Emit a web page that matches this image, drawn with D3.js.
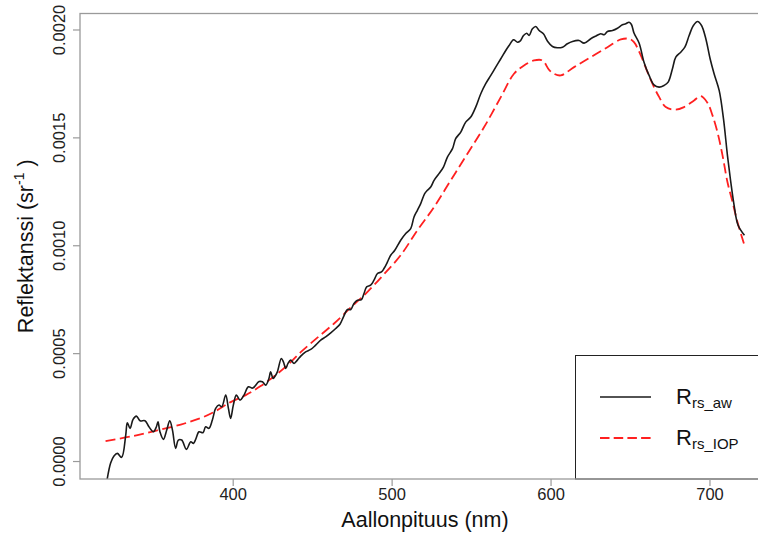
<!DOCTYPE html>
<html><head><meta charset="utf-8">
<script src="https://cdn.jsdelivr.net/npm/d3@7"></script>
<style>
body{margin:0;background:#fff}
svg{display:block}
text{font-family:"Liberation Sans",Arial,Helvetica,sans-serif}
</style>
</head><body>
<svg id="c" width="758" height="538"></svg>
<script>
// ---- data ----
const wavelengthAw = [320,323.2,325.3,327.4,330.1,332.7,333.7,335.4,337.3,339.4,341.7,344.8,347.3,350.1,352.0,353.0,354.2,356.4,358.5,360.4,362.1,364.1,365.8,367.9,370.9,373.6,375.3,376.7,378.8,381.3,383.0,385.1,387.2,389.3,391.4,393.1,395.6,397.3,398.7,400.4,402.3,404.6,407.1,409.9,412.6,416.6,418.7,420.8,422.8,423.9,425.4,426.4,428.1,430.6,431.9,433.4,434.8,436.5,438.6,440.7,442.8,445.9,449.1,452.2,455.4,458.5,461.7,464.8,467.5,469.7,472.2,474.3,476.3,478.5,481.0,482.6,484.3,486.8,488.9,491.1,493.6,495.2,497.4,499.4,502.0,505.7,508.9,512.0,514.1,516.2,518.3,520.8,522.5,524.6,526.7,529.8,532.6,535.1,538.3,540.3,543.5,546.6,549.8,552.9,556.1,559.2,562.4,565.5,568.7,571.8,573.9,576.7,579.2,580.8,583.0,585.0,586.5,588.6,590.7,592.8,595.5,598.1,601.2,604.3,607.5,610.6,613.8,617.9,621.1,625.3,628.4,631.6,633.7,635.8,639.0,642.1,645.2,647.3,649.4,650.9,652.5,655.7,658.8,662.0,665.1,668.3,671.4,674.0,676.7,678.8,681.9,684.5,687.2,689.9,692.5,695.0,697.7,700.4,702.9,706.1,708.8,711.3,713.4,715.5,718.0,722];
const rrsAw = [-13.0e-5,-0.93e-5,2.31e-5,3.56e-5,1.71e-5,12.04e-5,17.73e-5,15.14e-5,19.31e-5,20.83e-5,18.66e-5,18.66e-5,15.88e-5,13.56e-5,15.88e-5,18.19e-5,13.56e-5,10.05e-5,14.35e-5,18.66e-5,14.35e-5,5.88e-5,9.72e-5,9.72e-5,5.42e-5,8.94e-5,8.19e-5,10.05e-5,13.56e-5,13.10e-5,15.88e-5,15.14e-5,18.98e-5,24.40e-5,25.93e-5,25.14e-5,30.56e-5,24.40e-5,19.77e-5,25.93e-5,30.56e-5,28.24e-5,30.56e-5,34.40e-5,33.80e-5,36.81e-5,36.71e-5,35.19e-5,38.29e-5,41.34e-5,38.29e-5,39.03e-5,41.34e-5,47.55e-5,45.97e-5,42.92e-5,45.23e-5,46.76e-5,45.23e-5,46.76e-5,48.61e-5,50.60e-5,51.71e-5,53.70e-5,56.02e-5,57.55e-5,59.40e-5,61.44e-5,63.43e-5,66.81e-5,70.23e-5,70.23e-5,73.01e-5,74.54e-5,74.86e-5,77.64e-5,80.69e-5,81.48e-5,83.80e-5,86.90e-5,87.64e-5,89.21e-5,92.27e-5,95.37e-5,97.69e-5,102.31e-5,105.42e-5,107.73e-5,113.10e-5,116.20e-5,119.31e-5,123.94e-5,125.46e-5,126.99e-5,130.09e-5,133.19e-5,136.25e-5,140.88e-5,144.77e-5,149.40e-5,152.45e-5,157.08e-5,159.40e-5,164.03e-5,170.23e-5,174.86e-5,178.70e-5,182.55e-5,186.43e-5,190.28e-5,192.59e-5,195.23e-5,194.12e-5,194.58e-5,197.22e-5,198.29e-5,197.22e-5,200.32e-5,201.39e-5,199.54e-5,198.01e-5,194.58e-5,192.13e-5,191.53e-5,191.81e-5,193.38e-5,194.44e-5,194.91e-5,193.66e-5,195.69e-5,196.90e-5,198.01e-5,197.55e-5,199.07e-5,199.54e-5,200.60e-5,202.18e-5,202.64e-5,203.38e-5,202.31e-5,198.38e-5,193.75e-5,184.86e-5,178.70e-5,174.31e-5,173.29e-5,174.07e-5,175.60e-5,181.81e-5,187.18e-5,189.49e-5,191.81e-5,197.22e-5,201.85e-5,203.70e-5,201.85e-5,195.69e-5,186.43e-5,179.49e-5,171.76e-5,158.66e-5,141.67e-5,129.31e-5,118.52e-5,109.26e-5,104.63e-5];

const wavelengthIop = [320,335.8,351.5,367.3,379.9,389.3,398.7,408.2,417.6,427.1,436.5,442.8,453.3,463.8,474.3,484.8,495.2,505.7,516.2,526.7,537.2,547.7,558.2,568.7,577.0,583.3,589.6,594.9,599.1,602.2,606.4,614.8,625.3,635.8,644.2,649.4,652.5,656.8,661.0,665.1,668.3,672.5,678.8,684.0,690.3,694.5,698.7,701.9,705.0,708.2,711.3,714.5,717.6,722];
const rrsIop = [9.26e-5,11.34e-5,14.03e-5,16.90e-5,19.91e-5,23.15e-5,27.31e-5,30.56e-5,34.72e-5,39.81e-5,45.83e-5,50.46e-5,57.18e-5,63.75e-5,71.16e-5,78.38e-5,86.57e-5,95.37e-5,106.94e-5,117.73e-5,130.09e-5,142.45e-5,154.77e-5,168.66e-5,179.49e-5,183.33e-5,185.65e-5,185.65e-5,181.25e-5,179.49e-5,178.70e-5,182.55e-5,187.18e-5,191.81e-5,195.37e-5,195.69e-5,194.12e-5,187.96e-5,180.23e-5,173.29e-5,168.75e-5,164.03e-5,162.82e-5,164.03e-5,167.13e-5,169.12e-5,166.06e-5,160.18e-5,152.45e-5,141.67e-5,129.31e-5,120.05e-5,110.79e-5,100.0e-5];

const xTicks = [400,500,600,700];
const yTicks = [0,0.0005,0.0010,0.0015,0.0020];
const yTickLabels = ["0.0000","0.0005","0.0010","0.0015","0.0020"];
const seriesNames = ["rs_aw","rs_IOP"];
const seriesColors = ["#1a1a1a","#ff2020"];

// ---- layout ----
const svg = d3.select("#c");
const L = 80, R = 770, T = 13.5, B = 479;
const x = d3.scaleLinear().domain([303.92, 738.08]).range([L, R]);
const y = d3.scaleLinear().domain([-8.33e-5, 207.41e-5]).range([B, T]);

svg.append("defs").append("clipPath").attr("id","plotclip")
  .append("rect").attr("x",L).attr("y",T).attr("width",R-L).attr("height",B-T);

const line = d3.line().x(d=>x(d[0])).y(d=>y(d[1])).curve(d3.curveCatmullRom.alpha(0.5));

const g = svg.append("g").attr("clip-path","url(#plotclip)");
g.append("path")
  .datum(d3.zip(wavelengthIop, rrsIop))
  .attr("d", line).attr("fill","none")
  .attr("stroke", seriesColors[1]).attr("stroke-width",1.8)
  .attr("stroke-dasharray","10,4.5");
g.append("path")
  .datum(d3.zip(wavelengthAw, rrsAw))
  .attr("d", line).attr("fill","none")
  .attr("stroke", seriesColors[0]).attr("stroke-width",1.6);

// legend
const lg = svg.append("g");
lg.append("rect").attr("x",575.5).attr("y",355.5).attr("width",R-575.5).attr("height",B-355.5)
  .attr("fill","#fff").attr("stroke","#222").attr("stroke-width",1);
seriesNames.forEach((name,i)=>{
  const ly = 397 + i*41;
  lg.append("line").attr("x1",600).attr("x2",651).attr("y1",ly).attr("y2",ly)
    .attr("stroke",seriesColors[i]).attr("stroke-width", i?1.8:1.6)
    .attr("stroke-dasharray", i ? "9.5,4.2" : null);
  const t = lg.append("text").attr("x",676).attr("y",ly+7).attr("font-size",22).attr("fill","#111");
  t.append("tspan").text("R");
  t.append("tspan").attr("font-size",15).attr("dy",4).text(name);
});

// frame
svg.append("rect").attr("x",L).attr("y",T).attr("width",R-L).attr("height",B-T)
  .attr("fill","none").attr("stroke","#9a9a9a").attr("stroke-width",1.3);

// axes
const xa = svg.append("g").attr("transform",`translate(0,${B})`)
  .call(d3.axisBottom(x).tickValues(xTicks).tickSize(7).tickPadding(2).tickFormat(d3.format("d")));
xa.select(".domain").remove();
xa.selectAll(".tick line").attr("stroke","#9a9a9a").attr("stroke-width",1.2);
xa.selectAll(".tick text").attr("font-size",16.5).attr("fill","#222").attr("font-family",null);

const ya = svg.append("g").attr("transform",`translate(${L},0)`)
  .call(d3.axisLeft(y).tickValues(yTicks).tickSize(7).tickFormat((d,i)=>yTickLabels[i]));
ya.select(".domain").remove();
ya.selectAll(".tick line").attr("stroke","#9a9a9a").attr("stroke-width",1.2);
ya.selectAll(".tick text").attr("font-size",16.5).attr("fill","#222").attr("font-family",null)
  .attr("transform","rotate(-90)").attr("x",0).attr("y",-15).attr("dy",0).attr("text-anchor","middle");

// titles
svg.append("text").attr("x",(L+R)/2).attr("y",527).attr("text-anchor","middle")
  .attr("font-size",21.5).attr("fill","#111").text("Aallonpituus (nm)");
const yt = svg.append("text").attr("transform",`translate(33,${(T+B)/2}) rotate(-90)`)
  .attr("text-anchor","middle").attr("font-size",21.5).attr("fill","#111");
yt.append("tspan").text("Reflektanssi (sr");
yt.append("tspan").attr("font-size",14).attr("dy",-9).text("-1");
yt.append("tspan").attr("dy",9).text(" )");
</script>
</body></html>
